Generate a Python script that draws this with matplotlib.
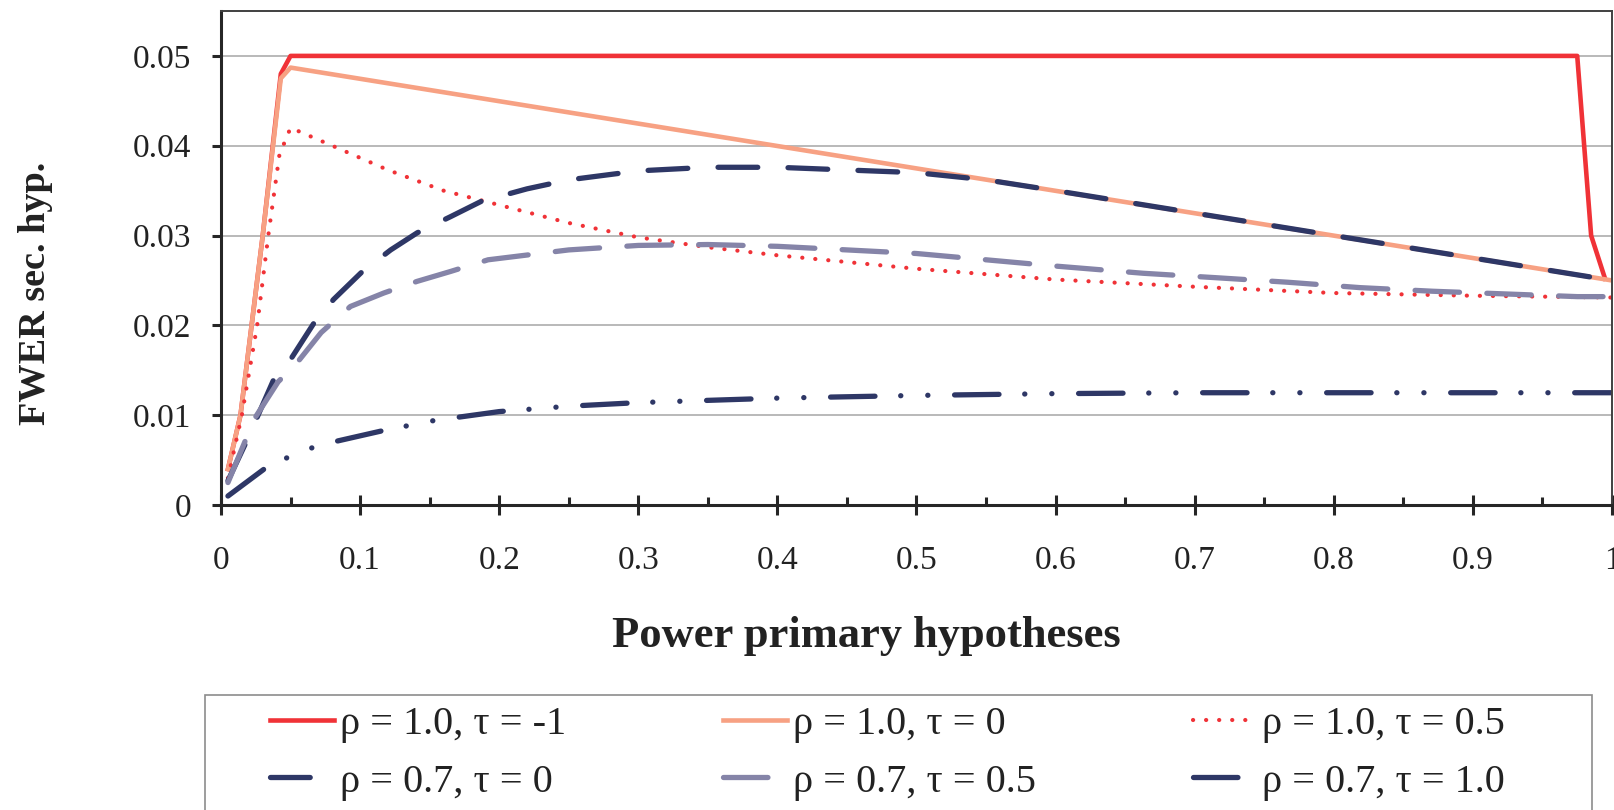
import matplotlib
matplotlib.use("Agg")
import matplotlib.pyplot as plt
from matplotlib.patches import Rectangle

plt.rcParams["font.family"] = ["Liberation Serif", "DejaVu Serif"]
plt.rcParams["lines.scale_dashes"] = False

# ---- data ----
x_r1_tm1 = [0.005, 0.014, 0.030, 0.043, 0.050, 0.975, 0.985, 0.995]
y_r1_tm1 = [0.0040, 0.0100, 0.0300, 0.0480, 0.0500, 0.0500, 0.0300, 0.0252]

x_r1_t0 = [0.005, 0.014, 0.030, 0.043, 0.050, 1.000]
y_r1_t0 = [0.0040, 0.0100, 0.0300, 0.0475, 0.0487, 0.0250]

x_r1_t05 = [0.005, 0.015, 0.026, 0.034, 0.042, 0.050, 0.080, 0.120, 0.160,
            0.200, 0.250, 0.300, 0.350, 0.400, 0.500, 0.600, 0.700, 0.800,
            0.900, 1.000]
y_r1_t05 = [0.0030, 0.0100, 0.0200, 0.0300, 0.0390, 0.0420, 0.0400, 0.0373,
            0.0350, 0.0334, 0.0314, 0.0298, 0.0287, 0.0278, 0.0263, 0.0251,
            0.0243, 0.0236, 0.0233, 0.0231]

x_r07_t0 = [0.005, 0.019, 0.038, 0.050, 0.067, 0.081, 0.101, 0.122, 0.141,
            0.165, 0.187, 0.220, 0.250, 0.300, 0.350, 0.400, 0.450, 0.500,
            0.550, 0.600, 0.700, 0.800, 0.900, 1.000]
y_r07_t0 = [0.0027, 0.0073, 0.0140, 0.0162, 0.0203, 0.0229, 0.0259, 0.0284,
            0.0303, 0.0321, 0.0338, 0.0352, 0.0362, 0.0372, 0.0376, 0.0376,
            0.0373, 0.0370, 0.0362, 0.0350, 0.0325, 0.0300, 0.0275, 0.0250]

x_r07_t05 = [0.005, 0.024, 0.041, 0.055, 0.072, 0.093, 0.117, 0.141, 0.165,
             0.192, 0.250, 0.300, 0.350, 0.400, 0.500, 0.600, 0.663, 0.716,
             0.767, 0.819, 0.871, 0.923, 0.975, 1.000]
y_r07_t05 = [0.0025, 0.0096, 0.0137, 0.0159, 0.0192, 0.0221, 0.0236, 0.0249,
             0.0260, 0.0273, 0.0284, 0.0289, 0.0290, 0.0288, 0.0280, 0.0266,
             0.0258, 0.0253, 0.0248, 0.0242, 0.0238, 0.0235, 0.0232, 0.0232]

x_r07_t1 = [0.005, 0.031, 0.048, 0.066, 0.083, 0.117, 0.153, 0.200, 0.250,
            0.300, 0.400, 0.500, 0.600, 0.700, 0.800, 0.900, 1.000]
y_r07_t1 = [0.0010, 0.0040, 0.0053, 0.0064, 0.0071, 0.0083, 0.0094, 0.0104,
            0.0110, 0.0114, 0.0119, 0.0122, 0.0124, 0.0125, 0.0125, 0.0125,
            0.0125]

labels = ["ρ = 1.0, τ = -1", "ρ = 1.0, τ = 0", "ρ = 1.0, τ = 0.5",
          "ρ = 0.7, τ = 0", "ρ = 0.7, τ = 0.5", "ρ = 0.7, τ = 1.0"]

x_ticks = [0, 0.1, 0.2, 0.3, 0.4, 0.5, 0.6, 0.7, 0.8, 0.9, 1.0]
x_ticklabels = ["0", "0.1", "0.2", "0.3", "0.4", "0.5", "0.6", "0.7", "0.8", "0.9", "1"]
y_ticks = [0, 0.01, 0.02, 0.03, 0.04, 0.05]
y_ticklabels = ["0", "0.01", "0.02", "0.03", "0.04", "0.05"]

RED = "#F03237"
SALMON = "#F7A183"
NAVY = "#2E3766"
GREYPURPLE = "#8584A8"

W, H = 1615, 810
fig = plt.figure(figsize=(W / 100, H / 100), dpi=100)
ax = fig.add_axes([221 / W, 1 - 505 / H, (1612 - 221) / W, (505 - 11) / H])

l1, = ax.plot(x_r1_tm1, y_r1_tm1, color=RED, lw=3.3, solid_joinstyle="round")
l2, = ax.plot(x_r1_t0, y_r1_t0, color=SALMON, lw=3.3)
l3, = ax.plot(x_r1_t05, y_r1_t05, color=RED, lw=3.0,
              linestyle=(0, (0.1, 9.3)), dash_capstyle="round")
l4, = ax.plot(x_r07_t0, y_r07_t0, color=NAVY, lw=3.8,
              linestyle=(0, (28.6, 21.8)), dash_capstyle="round")
l5, = ax.plot(x_r07_t05, y_r07_t05, color=GREYPURPLE, lw=3.8,
              linestyle=(0, (32, 19.7)), dash_capstyle="round")
l6, = ax.plot(x_r07_t1, y_r07_t1, color=NAVY, lw=3.8,
              linestyle=(0, (32, 18.5, 0.1, 19.4, 0.1, 19.2)), dash_capstyle="round")

ax.set_xlim(0, 1)
ax.set_ylim(0, 0.055)
ax.set_xticks(x_ticks)
ax.set_xticklabels(x_ticklabels)
ax.set_xticks([0.05 + 0.1 * i for i in range(10)], minor=True)
ax.set_yticks(y_ticks)
ax.set_yticklabels(y_ticklabels)

ax.yaxis.grid(True, color="#A6A6A6", lw=1.1)
ax.set_axisbelow(True)

for side in ("left", "bottom"):
    ax.spines[side].set_linewidth(2.2)
    ax.spines[side].set_color("#262626")
for side in ("top", "right"):
    ax.spines[side].set_linewidth(1.4)
    ax.spines[side].set_color("#404040")

ax.tick_params(axis="x", which="major", direction="inout", length=14.5,
               width=2.2, color="#262626", labelsize=24, pad=22, labelcolor="#222222")
ax.tick_params(axis="x", which="minor", direction="in", length=5.8,
               width=2.2, color="#262626")
ax.tick_params(axis="y", which="major", direction="out", length=6.5,
               width=2.2, color="#262626", labelsize=24, pad=15, labelcolor="#222222")

fig.text(866 / W, 1 - 647 / H, "Power primary hypotheses", fontsize=32,
         fontweight="bold", ha="center", va="baseline", color="#222222")
fig.text(45 / W, 1 - 293 / H, "FWER sec. hyp.", fontsize=27.5, fontweight="bold",
         rotation=90, rotation_mode="anchor", ha="center", va="baseline",
         color="#222222")

# legend box (runs off the bottom of the figure)
fig.add_artist(Rectangle((205 / W, -0.1), (1592 - 205) / W, 0.1 + (810 - 695) / H,
                         transform=fig.transFigure, fill=False,
                         edgecolor="#8C8C8C", lw=1.2))

handles = [l1, l4, l2, l5, l3, l6]
hlabels = [labels[0], labels[3], labels[1], labels[4], labels[2], labels[5]]
fig.legend(handles, hlabels, loc="upper left",
           bbox_to_anchor=(270 / W, 1 - 706 / H), ncol=3, frameon=False,
           fontsize=29, borderpad=0, borderaxespad=0, handlelength=1.6,
           handletextpad=0.13, columnspacing=3.9, labelspacing=0.5,
           labelcolor="#222222")

fig.savefig("out.png", dpi=100)
